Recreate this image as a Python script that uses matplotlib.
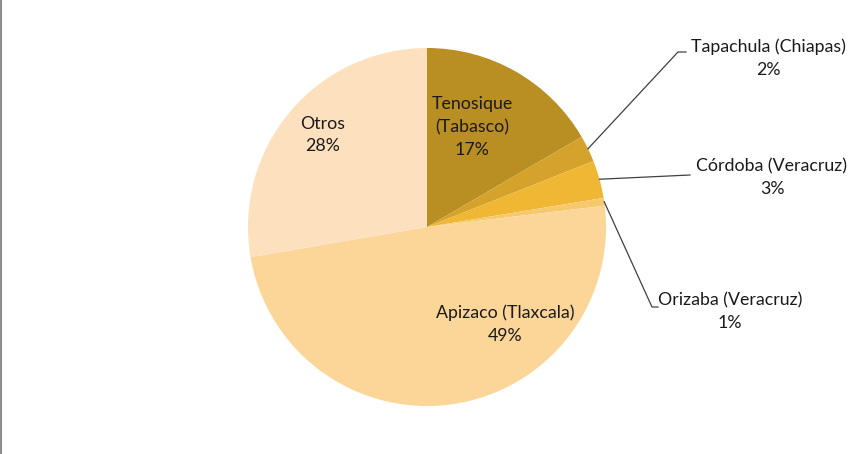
import numpy as np
import matplotlib.pyplot as plt
from matplotlib.lines import Line2D

labels = ['Tenosique\n(Tabasco)', 'Tapachula (Chiapas)', 'Córdoba (Veracruz)',
          'Orizaba (Veracruz)', 'Apizaco (Tlaxcala)', 'Otros']
shares = [16.6, 2.4, 3.4, 0.7, 49.2, 27.7]
colors = ['#B98E22', '#D5A22B', '#EFB733', '#F6C96E', '#FCD698', '#FDE1BF']

plt.rcParams['font.family'] = ['Lato', 'DejaVu Sans']

fig = plt.figure(figsize=(8.53, 4.54), dpi=100)
ax = fig.add_axes([0, 0, 1, 1])

cx, cy, r = 427, 227, 179
wedges, _ = ax.pie(shares, colors=colors, startangle=90, counterclock=False,
                   center=(cx, cy), radius=r, frame=True,
                   wedgeprops=dict(linewidth=0))
ax.set_xlim(0, 853)
ax.set_ylim(0, 454)
ax.set_aspect('equal')
ax.axis('off')

fs = 12.8
ls = 1.5
pct = [f'{v:.0f}%' for v in shares]

# labels inside the pie
inside = {0: (472, 327), 4: (505, 130), 5: (323, 319)}
for i, (x, y) in inside.items():
    ax.text(x, y, f'{labels[i]}\n{pct[i]}', ha='center', va='center',
            fontsize=fs, color='#1a1a1a', linespacing=ls)

# outside labels with leader lines
outside = {1: ((768, 396), (678, 402), (686, 402)),
           2: ((772, 276), (690, 279), (690, 279)),
           3: ((730, 142), (652, 147), (658, 147))}
for i, (txt, bend, end) in outside.items():
    theta = np.deg2rad(90 - (sum(shares[:i]) + shares[i] / 2) * 3.6)
    sx, sy = cx + r * np.cos(theta), cy + r * np.sin(theta)
    ax.plot([sx, bend[0], end[0]], [sy, bend[1], end[1]], color='#404040', lw=0.9)
    ax.text(txt[0], txt[1], f'{labels[i]}\n{pct[i]}', ha='center', va='center',
            fontsize=fs, color='#1a1a1a', linespacing=ls)

fig.add_artist(Line2D([0.001, 0.001], [0, 1], color='#8c8c8c', lw=1.5))

fig.savefig('out.png', dpi=100)
